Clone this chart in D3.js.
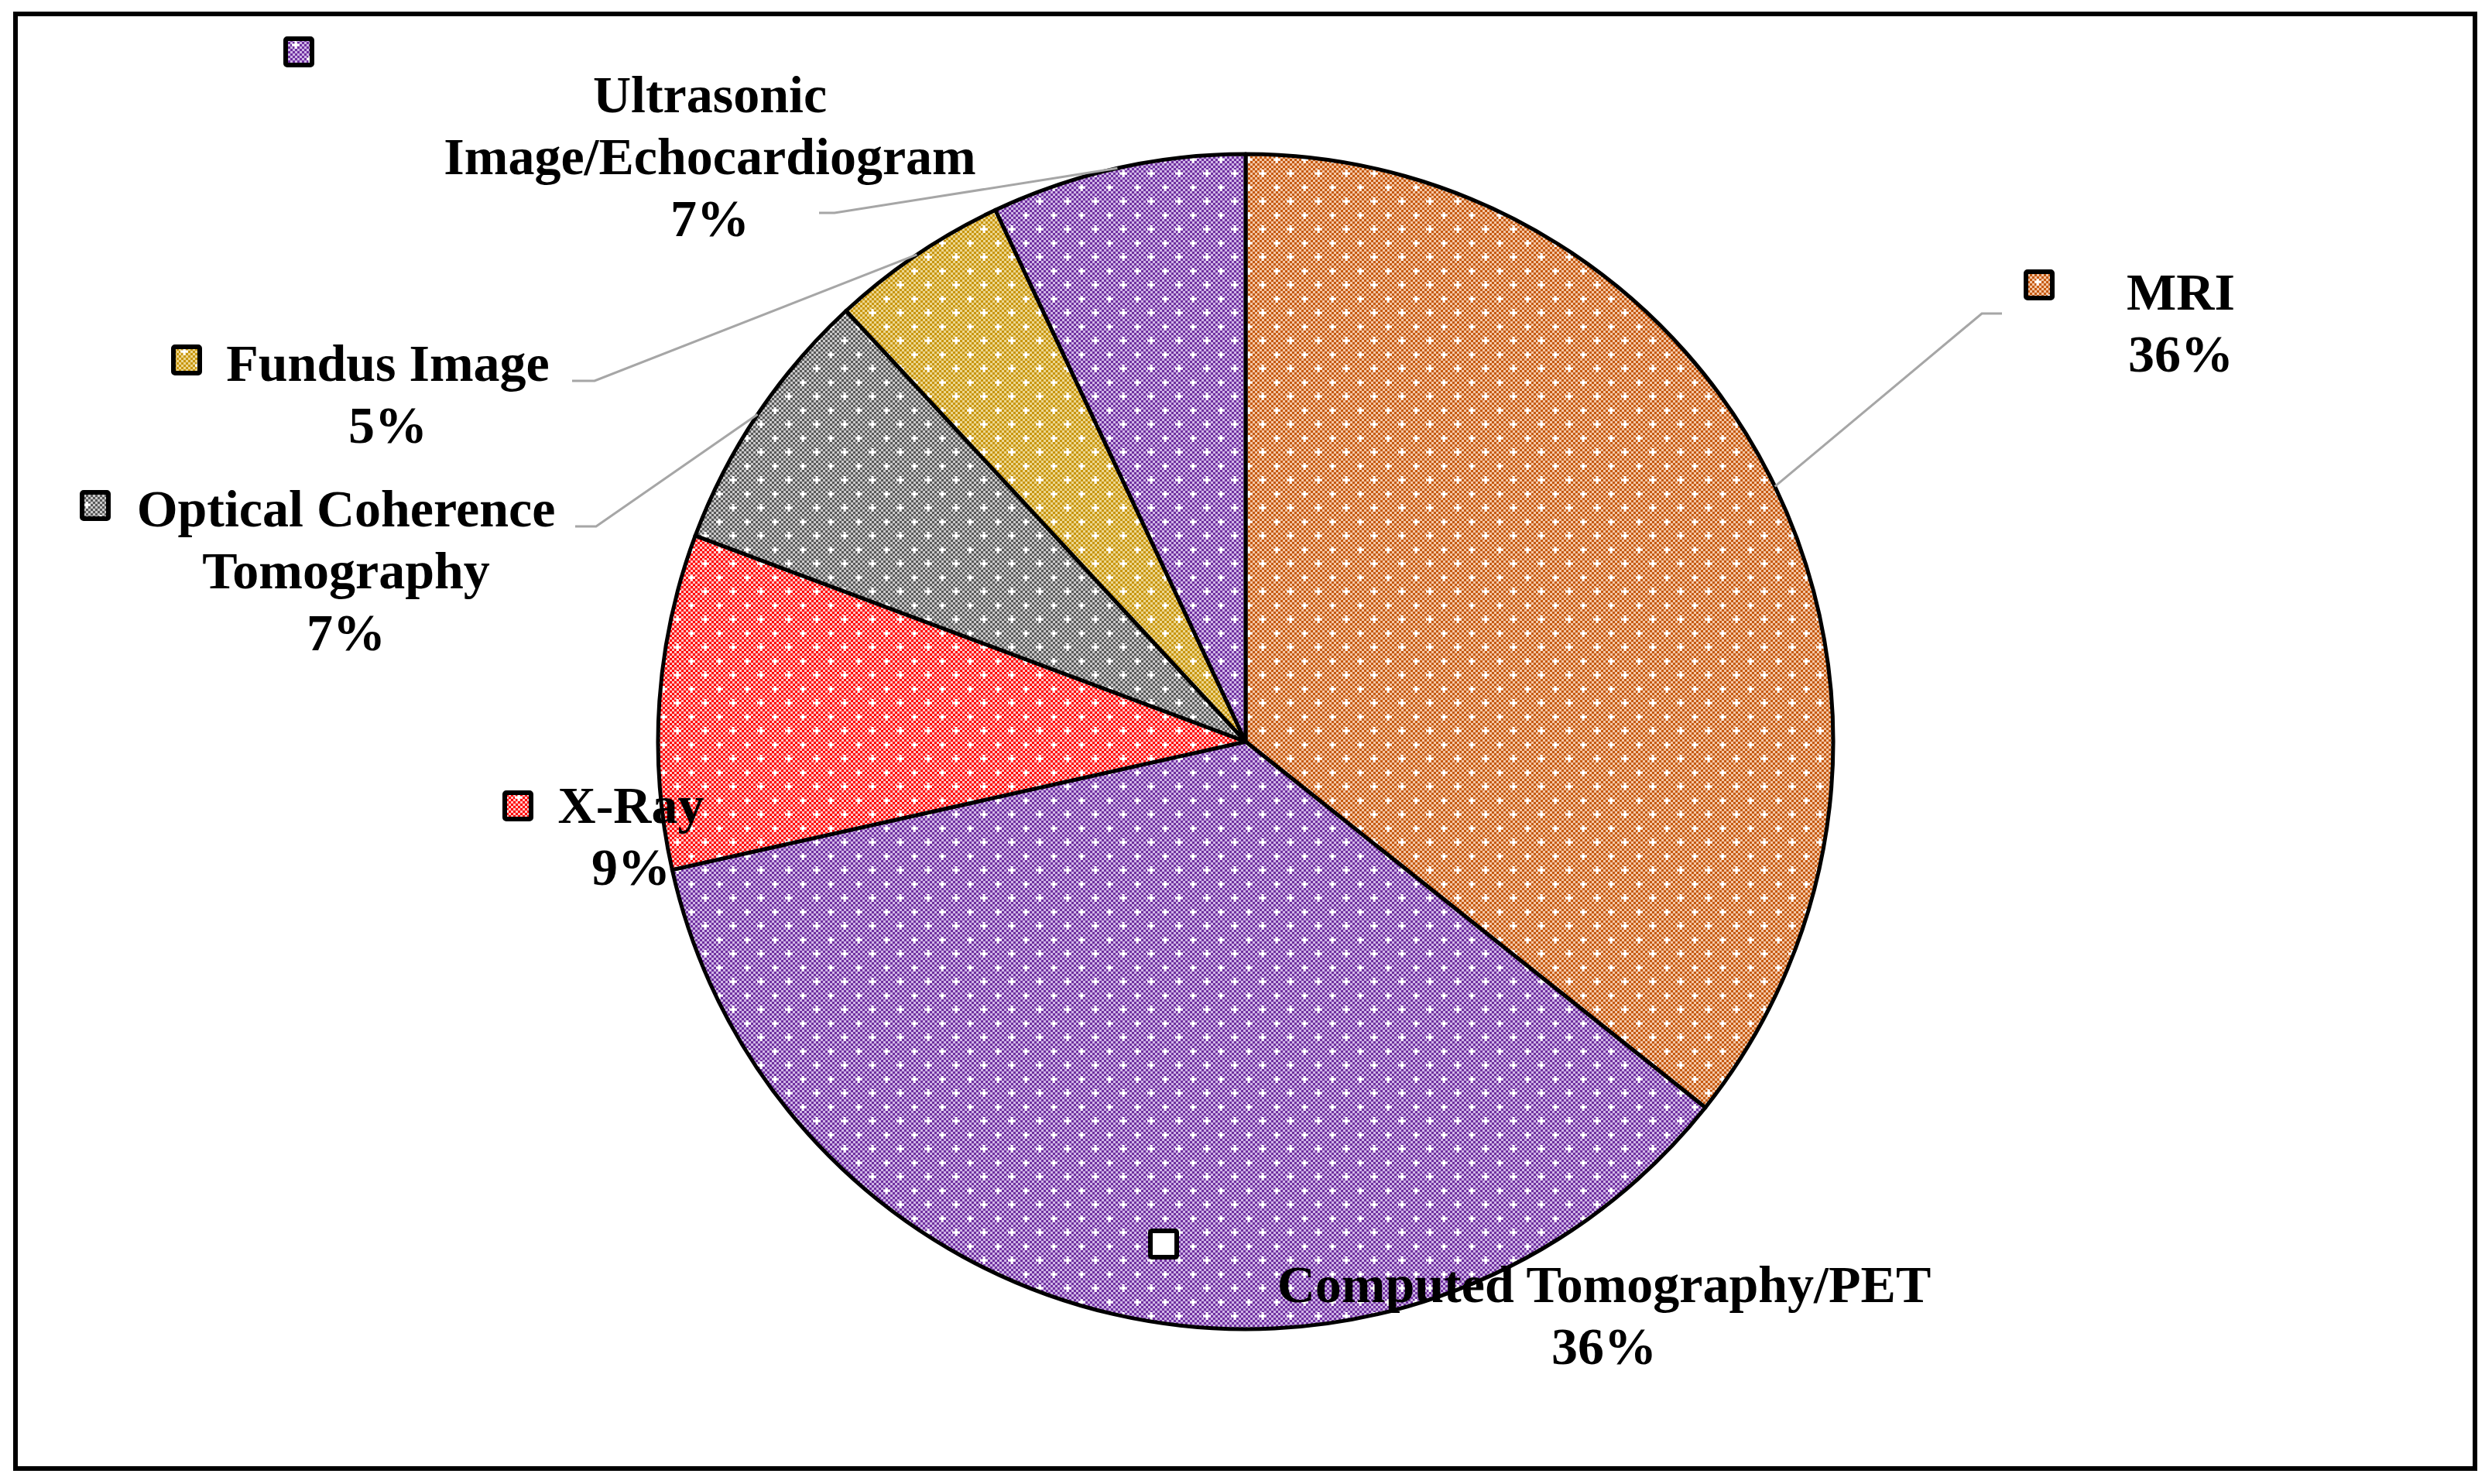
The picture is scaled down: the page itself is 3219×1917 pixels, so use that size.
<!DOCTYPE html>
<html>
<head>
<meta charset="utf-8">
<script src="https://cdnjs.cloudflare.com/ajax/libs/d3/7.8.5/d3.min.js"></script>
<style>
  body { margin: 0; background: #fff; }
  svg text { font-family: "Liberation Serif", "Times New Roman", serif; font-weight: bold; }
</style>
</head>
<body>
<div id="chart"></div>
<script>
/*
    PIE CHART - imaging modalities
*/

// data (shares in %)
var categories = ['MRI', 'Computed Tomography/PET', 'X-Ray', 'Optical Coherence Tomography', 'Fundus Image', 'Ultrasonic Image/Echocardiogram']
var shares = [35.7, 35.8, 9.2, 7.4, 4.9, 7.0]
// label text split into lines (the percentage is added as the last line)
var labelLines = [
  ['MRI'],
  ['Computed Tomography/PET'],
  ['X-Ray'],
  ['Optical Coherence', 'Tomography'],
  ['Fundus Image'],
  ['Ultrasonic', 'Image/Echocardiogram']
]

// pattern colours: dark checker squares on a lighter ground
var darkColors = ['#c65a11', '#7030a0', '#ff0000', '#595959', '#c8960f', '#7030a0']
var lightColors = ['#f3c6a5', '#cfb6e6', '#ffc4c4', '#c9c9c9', '#ecd68e', '#cfb6e6']

// Dimensions
var width = 3219
var height = 1917
var cx = 1609, cy = 958
var radius = 759

// Label layout: centre x, first baseline, key square centre, leader elbow (null = no leader)
var layout = [
  {x: 2817, y: 400, kx: 2634, ky: 368, elbow: [[2560, 405], [2586, 405]]},
  {x: 2072, y: 1682, kx: 1503, ky: 1607, elbow: null, keyFill: '#fff'},
  {x: 815, y: 1063, kx: 669, ky: 1041, elbow: null},
  {x: 447, y: 680, kx: 123, ky: 653, elbow: [[770, 680], [743, 680]]},
  {x: 501, y: 492, kx: 241, ky: 465, elbow: [[768, 492], [739, 492]]},
  {x: 917, y: 145, kx: 386, ky: 67, elbow: [[1078, 275], [1058, 275]]}
]
var lineHeight = 80
var fontSize = 68

var svg = d3.select('#chart').append('svg')
    .attr('width', width)
    .attr('height', height)

// Build one fill pattern per slice: checkerboard + white sparkles
var defs = svg.append('defs')
categories.forEach(function (c, i) {
  var tile = 36
  var p = defs.append('pattern')
      .attr('id', 'pat' + i)
      .attr('patternUnits', 'userSpaceOnUse')
      .attr('width', tile)
      .attr('height', tile)
  p.append('rect').attr('width', tile).attr('height', tile).attr('fill', lightColors[i])
  for (var yy = 0; yy < tile; yy += 3) {
    for (var xx = 0; xx < tile; xx += 3) {
      if (((xx + yy) / 3) % 2 === 0) {
        p.append('rect').attr('x', xx).attr('y', yy).attr('width', 3).attr('height', 3)
          .attr('fill', darkColors[i])
      }
    }
  }
  // sparkles
  ;[[4, 4], [22, 22]].forEach(function (s) {
    p.append('rect').attr('x', s[0] - 5).attr('y', s[1] - 1.5).attr('width', 10).attr('height', 3).attr('fill', '#fff')
    p.append('rect').attr('x', s[0] - 1.5).attr('y', s[1] - 5).attr('width', 3).attr('height', 10).attr('fill', '#fff')
  })
})

// outer frame
svg.append('rect')
    .attr('x', 20).attr('y', 18)
    .attr('width', 3177).attr('height', 1879)
    .attr('fill', '#fff')
    .attr('stroke', '#000')
    .attr('stroke-width', 6)

var total = d3.sum(shares)
var data = categories.map(function (c, i) { return {name: c, value: shares[i], idx: i} })

var pie = d3.pie().sort(null).value(function (d) { return d.value })
var arcs = pie(data)

var arc = d3.arc().innerRadius(0).outerRadius(radius)
var edgeArc = d3.arc().innerRadius(radius).outerRadius(radius)

var g = svg.append('g').attr('transform', 'translate(' + cx + ',' + cy + ')')

g.selectAll('path.slice')
    .data(arcs)
    .enter().append('path')
    .attr('class', 'slice')
    .attr('d', arc)
    .attr('fill', function (d) { return 'url(#pat' + d.data.idx + ')' })
    .attr('stroke', '#000')
    .attr('stroke-width', 5)
    .attr('stroke-linejoin', 'round')

// leader lines
arcs.forEach(function (d, i) {
  var lay = layout[i]
  if (!lay.elbow) return
  var c = edgeArc.centroid(d)
  var pts = [[cx + c[0], cy + c[1]]].concat(lay.elbow)
  svg.append('path')
      .attr('d', d3.line()(pts))
      .attr('fill', 'none')
      .attr('stroke', '#a6a6a6')
      .attr('stroke-width', 3)
})

// labels
arcs.forEach(function (d, i) {
  var lay = layout[i]
  var pct = Math.round(100 * d.value / total) + '%'
  var lines = labelLines[i].concat([pct])
  var t = svg.append('text')
      .attr('text-anchor', 'middle')
      .style('font-size', fontSize + 'px')
      .attr('fill', '#000')
  lines.forEach(function (l, k) {
    t.append('tspan')
        .attr('x', lay.x)
        .attr('y', lay.y + k * lineHeight)
        .text(l)
  })

  // key square
  svg.append('rect')
      .attr('x', lay.kx - 17).attr('y', lay.ky - 17)
      .attr('width', 34).attr('height', 34)
      .attr('rx', 2)
      .attr('fill', lay.keyFill || ('url(#pat' + i + ')'))
      .attr('stroke', '#000')
      .attr('stroke-width', 6)
})
</script>
</body>
</html>
